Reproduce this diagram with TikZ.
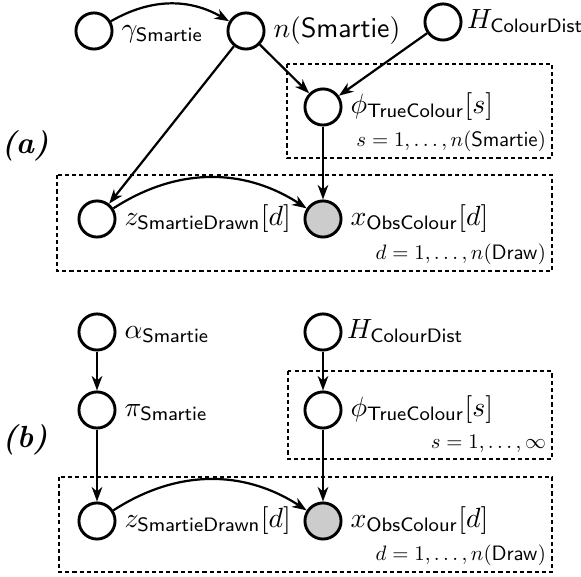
\documentclass[tikz,border=0pt]{standalone}
\usetikzlibrary{arrows.meta}
\newcommand{\platetext}[1]{\scalebox{0.75}{#1}}
\begin{document}
\begin{tikzpicture}[x=0.36pt,y=-0.36pt,
  var/.style={circle,draw,line width=1.05pt,minimum size=13pt,inner sep=0pt},
  obs/.style={var,fill=black!20},
  lab/.style={anchor=base west,inner sep=2.7pt},
  edge/.style={-{Stealth[length=5.2pt,width=3.8pt,inset=1.6pt]},line width=0.8pt},
  plate/.style={draw,line width=0.45pt,dash pattern=on 1.5pt off 1.1pt},
  platelab/.style={anchor=south east,inner sep=2pt},
  panel/.style={font=\fontsize{11}{13}\selectfont\bfseries\itshape}]
\useasboundingbox (0,0) rectangle (581,577);

% ---------- (a) ----------
\node[var] (g) at (94,31) {};
\node[lab] (gl) at ([yshift=-2.2pt]g.east) {$\gamma_{\mathsf{Smartie}}$};
\node[var] (n) at (246,31) {};
\node[lab] (nl) at ([yshift=-2.2pt]n.east) {$n(\mathsf{Smartie})$};
\node[var] (H) at (443,22) {};
\node[lab,inner sep=1.5pt] (Hl) at ([yshift=-2.2pt]H.east) {$H_{\mathsf{ColourDist}}$};
\node[var] (phi) at (323,107) {};
\node[lab] (phil) at ([yshift=-2.2pt]phi.east) {$\phi_{\mathsf{TrueColour}}[s]$};
\node[var] (z) at (97,219) {};
\node[lab] (zl) at ([yshift=-2.2pt]z.east) {$z_{\mathsf{SmartieDrawn}}[d]$};
\node[obs] (x) at (323,219) {};
\node[lab] (xl) at ([yshift=-2.2pt]x.east) {$x_{\mathsf{ObsColour}}[d]$};

\coordinate (p1a) at (287,64);
\coordinate (p1b) at (552,158);
\draw[plate] (p1a) rectangle (p1b);
\node[platelab] (p1l) at (p1b) {\platetext{$s=1,\ldots,n(\mathsf{Smartie})$}};
\coordinate (p2a) at (57,175);
\coordinate (p2b) at (552,271);
\draw[plate] (p2a) rectangle (p2b);
\node[platelab] (p2l) at (p2b) {\platetext{$d=1,\ldots,n(\mathsf{Draw})$}};

\node[panel] (pa) at (25,146) {(a)};

\draw[edge] (g) to[bend left=30] (n);
\draw[edge] (n) -- (z);
\draw[edge] (n) -- (phi);
\draw[edge] (H) -- (phi);
\draw[edge] (phi) -- (x);
\draw[edge] (z) to[bend left=33] (x);

% ---------- (b) ----------
\node[var] (al) at (97,332) {};
\node[lab] (all) at ([yshift=-2.2pt]al.east) {$\alpha_{\mathsf{Smartie}}$};
\node[var] (pi) at (97,410) {};
\node[lab] (pil) at ([yshift=-2.2pt]pi.east) {$\pi_{\mathsf{Smartie}}$};
\node[var] (Hb) at (323,332) {};
\node[lab,inner sep=1.5pt] (Hbl) at ([yshift=-2.2pt]Hb.east) {$H_{\mathsf{ColourDist}}$};
\node[var] (phib) at (323,410) {};
\node[lab] (phibl) at ([yshift=-2.2pt]phib.east) {$\phi_{\mathsf{TrueColour}}[s]$};
\node[var] (zb) at (97,521) {};
\node[lab] (zbl) at ([yshift=-2.2pt]zb.east) {$z_{\mathsf{SmartieDrawn}}[d]$};
\node[obs] (xb) at (323,521) {};
\node[lab] (xbl) at ([yshift=-2.2pt]xb.east) {$x_{\mathsf{ObsColour}}[d]$};

\coordinate (p3a) at (288,371);
\coordinate (p3b) at (552,459);
\draw[plate] (p3a) rectangle (p3b);
\node[platelab] (p3l) at (p3b) {\platetext{$s=1,\ldots,\infty$}};
\coordinate (p4a) at (59,477);
\coordinate (p4b) at (552,572);
\draw[plate] (p4a) rectangle (p4b);
\node[platelab] (p4l) at (p4b) {\platetext{$d=1,\ldots,n(\mathsf{Draw})$}};

\node[panel] (pb) at (25,440) {(b)};

\draw[edge] (al) -- (pi);
\draw[edge] (Hb) -- (phib);
\draw[edge] (pi) -- (zb);
\draw[edge] (phib) -- (xb);
\draw[edge] (zb) to[bend left=33] (xb);
\end{tikzpicture}
\end{document}
